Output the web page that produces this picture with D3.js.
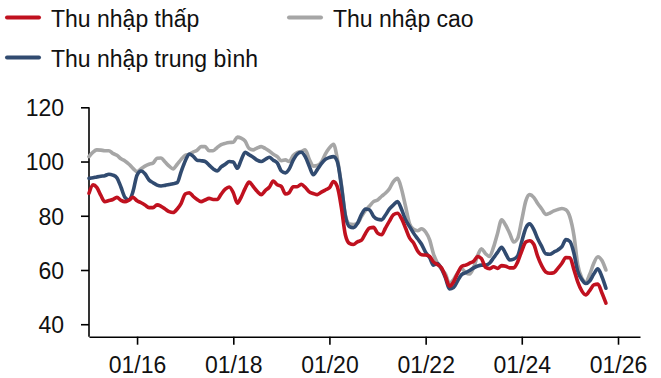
<!DOCTYPE html>
<html>
<head>
<meta charset="utf-8">
<script src="https://cdn.jsdelivr.net/npm/d3@7"></script>
<style>
  html, body { margin: 0; padding: 0; background: #fff; }
  svg { display: block; font-family: "Liberation Sans", Arial, sans-serif; }
</style>
</head>
<body>
<svg id="chart" width="661" height="378"></svg>
<script>
// Monthly index, Jan 2015 – Oct 2025
const startYear = 2015;
const seriesNames = ["Thu nhập thấp", "Thu nhập trung bình", "Thu nhập cao"];
const seriesColors = ["#C0111F", "#314B70", "#A6A6A6"];

const lowIncome = [
  88.3, 91.4, 90.5, 87.5, 85.2, 85.6, 86.0, 86.8, 85.7, 85.2, 85.8, 86.8,
  85.5, 84.8, 84.0, 83.0, 83.0, 84.0, 83.5, 82.5, 81.5, 81.2, 82.5, 84.6,
  88.0, 88.5, 87.2, 86.0, 85.2, 85.8, 86.4, 86.0, 86.0, 88.0, 89.8, 90.6,
  88.5, 84.6, 86.8, 90.1, 92.4, 90.8, 89.0, 87.8, 89.3, 90.5, 92.8, 91.4,
  90.8, 88.0, 88.5, 90.7, 90.7, 91.6, 90.5, 88.8, 88.2, 87.8, 88.7, 89.5,
  90.3, 92.6, 90.7, 83.0, 73.0, 69.8, 69.4, 70.4, 71.0, 73.5, 75.5, 75.7,
  73.6, 73.0, 75.4, 78.0, 80.4, 80.9, 79.0, 75.5, 71.8, 70.0, 67.0, 65.6,
  65.5, 65.0, 63.0, 62.0, 60.8, 57.5, 54.0, 55.6, 58.8, 61.3, 61.8, 62.5,
  63.3, 65.0, 64.2, 61.0, 60.5, 61.2, 60.6, 61.6, 61.4, 60.8, 60.8, 63.0,
  67.0, 70.3, 70.8, 69.5, 65.0, 61.5, 59.3, 58.8, 59.0, 60.6, 62.5, 64.6,
  64.5, 60.0, 55.6, 52.3, 50.8, 52.5, 54.5, 54.8, 51.5, 47.8
];

const middleIncome = [
  93.8, 94.0, 94.3, 94.6, 94.8, 95.3, 95.0, 94.0, 90.5, 86.8, 85.8, 88.9,
  95.0, 96.5, 95.5, 93.2, 92.2, 91.3, 91.0, 91.2, 91.5, 91.8, 92.2, 96.3,
  100.2, 102.8, 102.0, 100.5, 100.3, 100.0, 98.7, 97.3, 96.5, 98.0, 99.0, 100.0,
  99.8, 97.5, 100.5, 103.4, 102.5, 101.6, 100.5, 100.0, 100.8, 101.6, 100.5, 99.5,
  96.5, 95.8, 97.2, 100.5, 102.7, 103.4, 101.8, 98.3, 95.1, 97.0, 99.2, 100.8,
  101.5, 101.8, 100.0, 91.0, 80.0, 76.0, 75.6, 77.2, 80.5, 82.5, 82.2, 79.8,
  78.7, 78.5, 80.2, 82.5, 84.0, 85.2, 82.5, 78.5, 76.0, 73.6, 71.5, 69.5,
  66.5, 64.5, 61.8, 62.4, 60.5, 57.0, 53.0, 53.5, 56.0, 58.3, 59.0, 59.8,
  60.8, 61.5, 61.8, 61.8, 62.5, 64.5, 66.5, 68.4, 66.0, 63.7, 64.0, 65.2,
  70.5, 75.5, 77.0, 75.0, 71.5, 68.6, 66.0, 65.8, 66.6, 67.4, 68.6, 71.2,
  70.5, 66.0, 59.5, 56.5, 55.0, 56.0, 58.5, 60.4, 57.5, 53.3
];

const highIncome = [
  101.8, 103.5, 104.3, 104.2, 104.0, 104.0, 103.0, 102.3, 101.0, 100.2, 99.0, 97.5,
  96.3, 97.3, 98.3, 99.0, 99.4, 101.2, 101.3, 99.8, 98.3, 97.3, 99.0, 100.8,
  102.3, 102.7, 103.5, 104.2, 105.5, 105.5, 104.0, 104.0, 105.2, 106.2, 106.7, 107.0,
  107.1, 109.0, 108.6, 107.5, 104.8, 104.3, 105.0, 105.5, 104.8, 103.9, 102.7, 101.8,
  100.3, 100.6, 100.0, 102.2, 103.3, 103.7, 104.3, 100.8, 98.3, 98.5, 99.8, 102.7,
  105.0, 106.4, 101.0, 91.5, 80.3, 77.0, 76.8, 77.2, 79.8, 82.0, 83.6, 85.2,
  85.8, 87.2, 88.3, 90.0, 92.6, 93.8, 90.0, 83.5, 77.0, 75.0, 74.5, 75.2,
  74.0, 71.0, 66.0, 62.5, 60.3, 58.5, 55.0, 56.5, 59.0, 60.5, 59.0, 58.5,
  61.0, 65.5, 67.8, 66.0, 65.0, 68.5, 73.5, 78.5, 76.5, 73.5, 70.3, 71.7,
  78.5, 85.5, 87.8, 86.8, 84.5, 82.5, 80.5, 81.0, 81.8, 82.3, 82.7, 82.2,
  79.5, 72.5, 62.0, 57.0, 55.5, 58.5, 62.5, 64.9, 63.5, 60.0
];

const yTicks = [40, 60, 80, 100, 120];
const xTickYears = [2016, 2018, 2020, 2022, 2024, 2026];

const svg = d3.select("#chart");

const x = d3.scaleTime()
  .domain([new Date(2015, 0, 1), new Date(2026, 5, 17)])
  .range([89, 640]);

const y = d3.scaleLinear()
  .domain([35.4, 120])
  .range([336.7, 107.3]);

const monthDate = i => new Date(startYear, i, 1);

// Axes
const yAxis = svg.append("g")
  .attr("transform", "translate(89,0)")
  .call(d3.axisLeft(y).tickValues(yTicks).tickSize(8).tickSizeOuter(0).tickPadding(17)
    .tickFormat(d3.format("d")));

const xAxis = svg.append("g")
  .attr("transform", "translate(0,336.7)")
  .call(d3.axisBottom(x)
    .tickValues(xTickYears.map(yr => new Date(yr, 0, 1)))
    .tickSize(8).tickSizeOuter(0).tickPadding(12)
    .tickFormat(d3.timeFormat("%m/%y")));

[yAxis, xAxis].forEach(g => {
  g.select(".domain").attr("stroke", "#000").attr("stroke-width", 1.6);
  g.selectAll(".tick line").attr("stroke", "#000").attr("stroke-width", 1.6);
  g.selectAll(".tick text").attr("fill", "#111").style("font-size", "23px")
    .style("font-family", "'Liberation Sans', Arial, sans-serif");
});
yAxis.select(".domain").attr("d", `M0,${y(120)}V${y.range()[0]}`);
yAxis.selectAll(".tick text").attr("dy", "0.36em");

// Lines (high drawn first, low on top)
const line = d3.line()
  .x((d, i) => x(monthDate(i)))
  .y(d => y(d))
  .curve(d3.curveMonotoneX);

const drawOrder = [
  { values: highIncome, color: seriesColors[2] },
  { values: middleIncome, color: seriesColors[1] },
  { values: lowIncome, color: seriesColors[0] }
];

svg.append("g").selectAll("path")
  .data(drawOrder)
  .join("path")
  .attr("fill", "none")
  .attr("stroke", d => d.color)
  .attr("stroke-width", 3.6)
  .attr("stroke-linejoin", "round")
  .attr("stroke-linecap", "round")
  .attr("d", d => line(d.values));

// Legend
const legendItems = [
  { name: seriesNames[0], color: seriesColors[0], x: 7, y: 17.5 },
  { name: seriesNames[2], color: seriesColors[2], x: 289, y: 17.5 },
  { name: seriesNames[1], color: seriesColors[1], x: 7, y: 57.5 }
];

const legend = svg.append("g").selectAll("g")
  .data(legendItems)
  .join("g")
  .attr("transform", d => `translate(${d.x},${d.y})`);

legend.append("line")
  .attr("x1", 0).attr("x2", 32)
  .attr("y1", 0).attr("y2", 0)
  .attr("stroke", d => d.color)
  .attr("stroke-width", 4)
  .attr("stroke-linecap", "round");

legend.append("text")
  .attr("x", 44)
  .attr("y", 9.8)
  .attr("fill", "#111")
  .style("font-size", "23px")
  .text(d => d.name);
</script>
</body>
</html>
